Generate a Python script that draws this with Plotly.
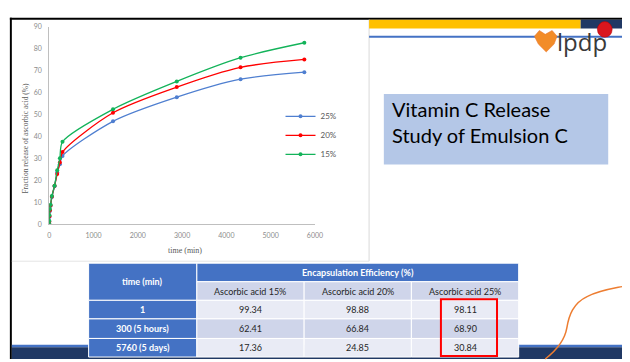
import plotly.graph_objects as go

# ---- release data (time in minutes, cumulative release in %) ----
time_min = [0, 1, 5, 15, 30, 60, 120, 180, 240, 300, 1440, 2880, 4320, 5760]
release_25 = [0, 1.0, 3.2, 6.0, 8.3, 12.3, 17.2, 23.5, 27.3, 31.0, 46.8, 57.8, 66.0, 69.2]
release_20 = [0, 1.2, 3.5, 6.3, 8.5, 12.5, 17.5, 22.8, 28.0, 32.8, 50.7, 62.4, 71.4, 75.0]
release_15 = [0, 1.5, 4.0, 6.8, 8.8, 12.8, 17.5, 24.5, 30.0, 37.5, 52.3, 65.0, 75.8, 82.6]

series_names = ["25%", "20%", "15%"]
series_colors = ["#4F7FD0", "#FF0000", "#13B35A"]

# ---- encapsulation efficiency table ----
table_times = ["1", "300 (5 hours)", "5760 (5 days)"]
table_cols = ["Ascorbic acid 15%", "Ascorbic acid 20%", "Ascorbic acid 25%"]
ee_15 = [99.34, 62.41, 17.36]
ee_20 = [98.88, 66.84, 24.85]
ee_25 = [98.11, 68.90, 30.84]

W, H = 630, 362


def fx(x):
    return x / W


def fy(y):
    return 1 - y / H


fig = go.Figure()
for name, color, vals in zip(series_names, series_colors, [release_25, release_20, release_15]):
    fig.add_trace(go.Scatter(
        x=time_min, y=vals, name=name, mode="lines+markers",
        line=dict(color=color, width=1.3, shape="spline", smoothing=0.8),
        marker=dict(color=color, size=4, symbol="circle"),
    ))

shapes = []


def rect(x0, y0, x1, y1, fill, line_color=None, lw=0):
    shapes.append(dict(type="rect", xref="paper", yref="paper",
                       x0=fx(x0), x1=fx(x1), y0=fy(y1), y1=fy(y0),
                       fillcolor=fill, line=dict(color=line_color or fill, width=lw),
                       layer="above"))


def hline(x0, x1, y, color, w):
    shapes.append(dict(type="line", xref="paper", yref="paper",
                       x0=fx(x0), x1=fx(x1), y0=fy(y), y1=fy(y),
                       line=dict(color=color, width=w), layer="above"))


def vline(x, y0, y1, color, w):
    shapes.append(dict(type="line", xref="paper", yref="paper",
                       x0=fx(x), x1=fx(x), y0=fy(y0), y1=fy(y1),
                       line=dict(color=color, width=w), layer="above"))


# slide frame
rect(8, 13, 630, 15, "#000000")
rect(8, 13, 10, 362, "#000000")
vline(373, 15, 262, "#D9D9D9", 1)
hline(10, 373, 262, "#E4E4E4", 1)

# header bars
rect(373, 15, 588, 24, "#FFC000")
rect(588, 15, 630, 24, "#203864")
hline(373, 630, 32.5, "#4472C4", 2)

# footer band
rect(10, 347.5, 630, 350, "#4472C4")
rect(10, 350, 630, 362, "#203864")

# title box
rect(388, 91, 616, 163, "#B4C7E7")

# decorative orange curve
pts = [(552, 362), (565, 352), (572, 342), (574, 330), (576, 318), (580, 305),
       (595, 298), (607, 292), (620, 290), (630, 288)]
p = [f"{fx(a):.5f},{fy(b):.5f}" for a, b in pts]
path = f"M {p[0]} C {p[1]} {p[2]} {p[3]} C {p[4]} {p[5]} {p[6]} C {p[7]} {p[8]} {p[9]}"
shapes.append(dict(type="path", xref="paper", yref="paper", path=path,
                   line=dict(color="#ED7D31", width=1.5), layer="above"))

# logo marks
heart = [(552, 30), (546, 26), (541, 32), (545, 40), (553, 48), (561, 40), (564, 32), (559, 26)]
hp = [f"{fx(a):.5f},{fy(b):.5f}" for a, b in heart]
shapes.append(dict(type="path", xref="paper", yref="paper",
                   path="M " + " L ".join(hp) + " Z",
                   fillcolor="#F28C28", line=dict(color="#E8702A", width=0.5), layer="above"))
shapes.append(dict(type="circle", xref="paper", yref="paper",
                   x0=fx(605), x1=fx(620), y0=fy(33), y1=fy(17),
                   fillcolor="#D9161E", line=dict(color="#B00000", width=0.5), layer="above"))

# ---- table drawn cell by cell ----
col_edges = [88, 198, 307, 416, 525]
row_edges = [264, 283, 302, 321, 341, 360]
BLUE, LIGHT, DARK = "#4472C4", "#E9EBF5", "#CFD5EA"
annotations = []


def cell_text(x0, x1, y0, y1, text, color, bold=False, size=9):
    annotations.append(dict(
        xref="paper", yref="paper", x=fx((x0 + x1) / 2), y=fy((y0 + y1) / 2),
        text=f"<b>{text}</b>" if bold else text, showarrow=False,
        font=dict(family="Lato", size=size, color=color),
        xanchor="center", yanchor="middle"))


# header
rect(col_edges[0], row_edges[0], col_edges[1], row_edges[2], BLUE, "#FFFFFF", 1)
cell_text(col_edges[0], col_edges[1], row_edges[0], row_edges[2], "time (min)", "#FFFFFF", True)
rect(col_edges[1], row_edges[0], col_edges[4], row_edges[1], BLUE, "#FFFFFF", 1)
cell_text(col_edges[1], col_edges[4], row_edges[0], row_edges[1],
          "Encapsulation Efficiency (%)", "#FFFFFF", True)
for j, name in enumerate(table_cols):
    rect(col_edges[j + 1], row_edges[1], col_edges[j + 2], row_edges[2], DARK, "#FFFFFF", 1)
    cell_text(col_edges[j + 1], col_edges[j + 2], row_edges[1], row_edges[2], name, "#262626")

# body
columns = [ee_15, ee_20, ee_25]
for i, t in enumerate(table_times):
    y0, y1 = row_edges[i + 2], row_edges[i + 3]
    rect(col_edges[0], y0, col_edges[1], y1, BLUE, "#FFFFFF", 1)
    cell_text(col_edges[0], col_edges[1], y0, y1, t, "#FFFFFF", True)
    fill = LIGHT if i % 2 == 0 else DARK
    for j, col in enumerate(columns):
        rect(col_edges[j + 1], y0, col_edges[j + 2], y1, fill, "#FFFFFF", 1)
        cell_text(col_edges[j + 1], col_edges[j + 2], y0, y1, f"{col[i]:.2f}", "#262626")

# highlight box around the 25% column
shapes.append(dict(type="rect", xref="paper", yref="paper",
                   x0=fx(446), x1=fx(503), y0=fy(359), y1=fy(301),
                   line=dict(color="#FF0000", width=2), fillcolor="rgba(0,0,0,0)",
                   layer="above"))

# title and logo text
annotations.append(dict(xref="paper", yref="paper", x=fx(394), y=fy(120),
                        text="Vitamin C Release<br>Study of Emulsion C", showarrow=False,
                        align="left", xanchor="left", yanchor="middle",
                        font=dict(family="Lato", size=20, color="#000000")))
annotations.append(dict(xref="paper", yref="paper", x=fx(562), y=fy(37),
                        text="lpdp", showarrow=False, xanchor="left", yanchor="middle",
                        font=dict(family="Open Sans", size=24, color="#3A3A3A")))

# axis titles
annotations.append(dict(xref="paper", yref="paper", x=fx(24), y=fy(136),
                        text="Fraction release of ascorbic acid (%)", showarrow=False,
                        textangle=-90, xanchor="center", yanchor="middle",
                        font=dict(family="Liberation Serif", size=7.5, color="#595959")))
annotations.append(dict(xref="paper", yref="paper", x=fx(186), y=fy(251),
                        text="time (min)", showarrow=False, xanchor="center", yanchor="middle",
                        font=dict(family="Liberation Serif", size=8, color="#595959")))

fig.update_layout(
    width=W, height=H, margin=dict(l=0, r=0, t=0, b=0),
    paper_bgcolor="#FFFFFF", plot_bgcolor="#FFFFFF",
    xaxis=dict(domain=[fx(48), fx(318)], range=[0, 6000], tickvals=list(range(0, 6001, 1000)),
               showgrid=False, zeroline=False, showline=True, linecolor="#BFBFBF", linewidth=1,
               ticks="outside", ticklen=5, tickcolor="rgba(0,0,0,0)",
               tickfont=dict(family="Lato", size=7, color="#8C8C8C")),
    yaxis=dict(domain=[fy(224), fy(22)], range=[0, 90], tickvals=list(range(0, 91, 10)),
               showgrid=False, zeroline=False, showline=True, linecolor="#BFBFBF", linewidth=1,
               ticks="outside", ticklen=5, tickcolor="rgba(0,0,0,0)",
               tickfont=dict(family="Lato", size=7, color="#8C8C8C")),
    showlegend=True,
    legend=dict(x=fx(283), y=fy(99), xanchor="left", yanchor="top",
                bgcolor="rgba(0,0,0,0)", itemwidth=30,
                font=dict(family="Lato", size=8, color="#595959")),
    shapes=shapes, annotations=annotations,
)

fig.write_html("out.html")
